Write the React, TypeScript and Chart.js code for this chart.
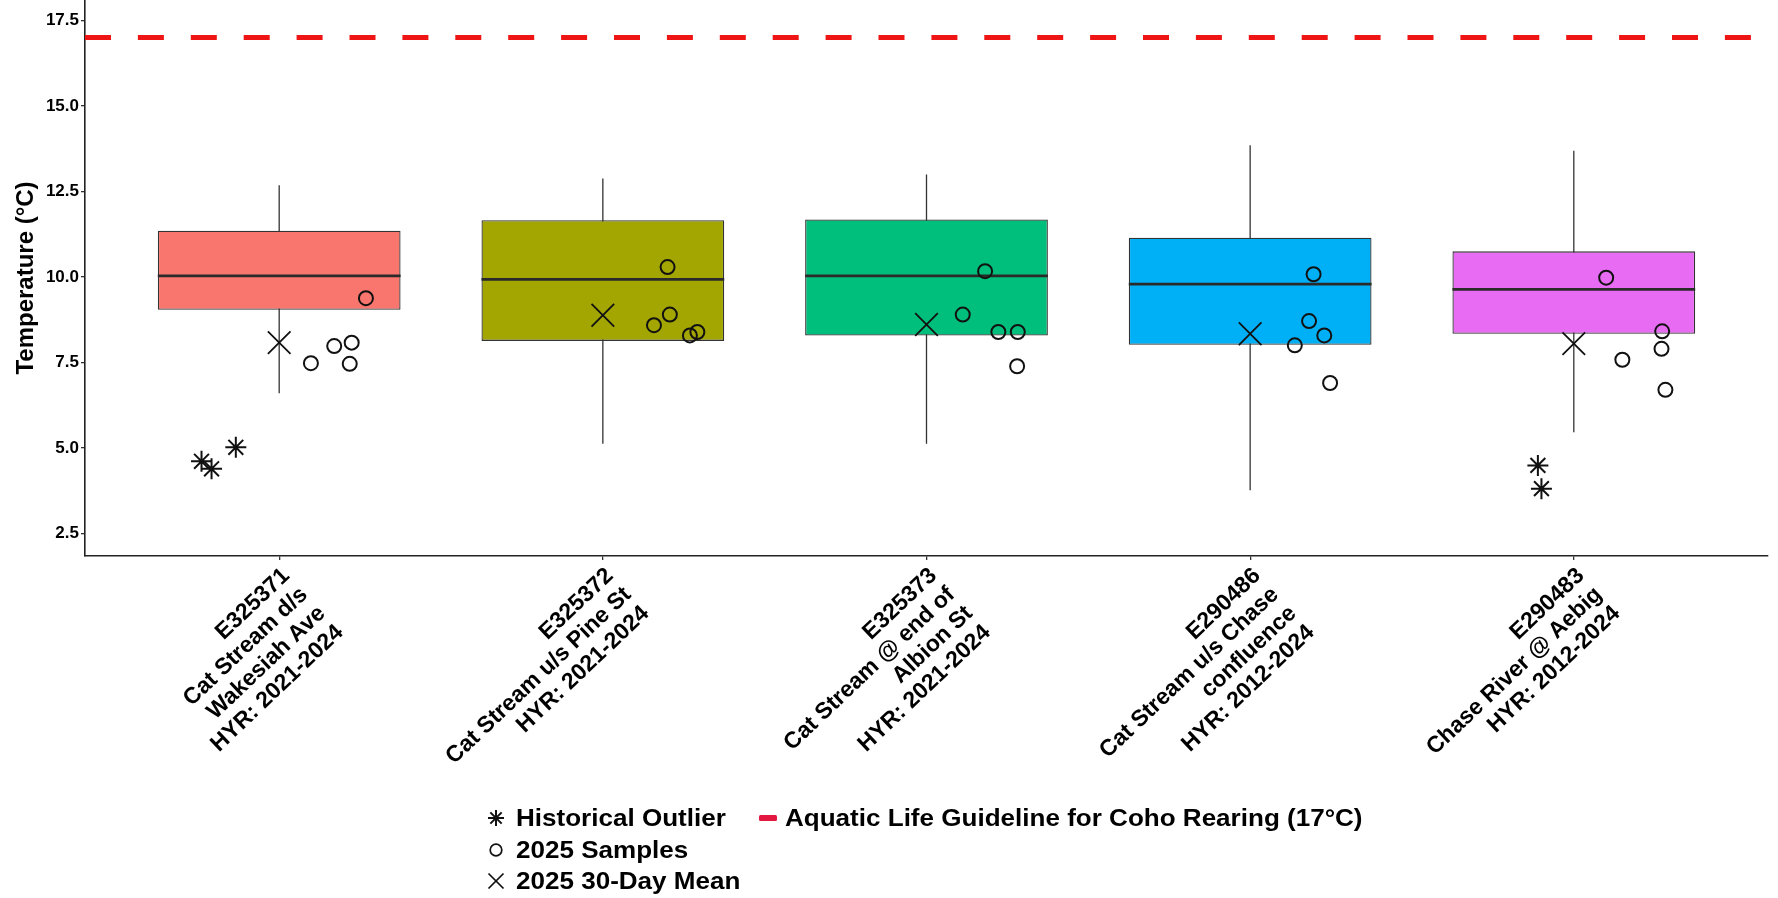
import React, { useEffect, useRef } from 'react';
import { Chart, registerables } from 'chart.js';

Chart.register(...registerables);

// ---------- data ----------
const categories: string[][] = [
  ['E325371', 'Cat Stream d/s', 'Wakesiah Ave', 'HYR: 2021-2024'],
  ['E325372', 'Cat Stream u/s Pine St', 'HYR: 2021-2024'],
  ['E325373', 'Cat Stream @ end of', 'Albion St', 'HYR: 2021-2024'],
  ['E290486', 'Cat Stream u/s Chase', 'confluence', 'HYR: 2012-2024'],
  ['E290483', 'Chase River @ Aebig', 'HYR: 2012-2024'],
];
const boxColors = ['#F8766D', '#A3A500', '#00BF7D', '#00B0F6', '#E76BF3'];

const whiskerLow = [6.6, 5.12, 5.12, 3.76, 5.46];
const q1 = [9.04, 8.13, 8.29, 8.02, 8.34];
const median = [10.03, 9.93, 10.03, 9.79, 9.64];
const q3 = [11.35, 11.66, 11.68, 11.15, 10.75];
const whiskerHigh = [12.68, 12.88, 13.0, 13.85, 13.69];

// 2025 samples (site index, horizontal jitter, temperature)
const sampleSite = [0, 0, 0, 0, 0, 1, 1, 1, 1, 1, 2, 2, 2, 2, 2, 3, 3, 3, 3, 3, 4, 4, 4, 4, 4];
const sampleJitter = [
  0.098, 0.17, 0.224, 0.218, 0.268,
  0.158, 0.207, 0.2, 0.269, 0.292,
  0.112, 0.181, 0.222, 0.282, 0.28,
  0.138, 0.182, 0.196, 0.229, 0.247,
  0.1, 0.15, 0.271, 0.273, 0.283,
];
const sampleTemp = [
  7.48, 7.98, 8.08, 7.46, 9.38,
  8.59, 8.9, 10.29, 8.29, 8.39,
  8.9, 10.17, 8.39, 8.39, 7.39,
  8.0, 8.71, 10.08, 8.29, 6.9,
  9.98, 7.58, 7.9, 8.41, 6.7,
];

// 2025 30-day means
const meanTemp = [8.08, 8.88, 8.61, 8.34, 8.05];

// historical outliers
const outlierSite = [0, 0, 0, 4, 4];
const outlierJitter = [-0.24, -0.209, -0.134, -0.111, -0.1];
const outlierTemp = [4.61, 4.39, 5.02, 4.49, 3.81];

const guideline = 17;
const yTicks = [2.5, 5, 7.5, 10, 12.5, 15, 17.5];
const yMin = 1.84;
const yMax = 18.1;
const xMin = -0.6;
const xMax = 4.6;

const BOX_WIDTH = 0.75;
const FONT = "'Liberation Sans', Arial, sans-serif";

const legendItems = [
  { label: 'Historical Outlier', icon: 'star', col: 0, row: 0 },
  { label: '2025 Samples', icon: 'circle', col: 0, row: 1 },
  { label: '2025 30-Day Mean', icon: 'cross', col: 0, row: 2 },
  { label: 'Aquatic Life Guideline for Coho Rearing (17°C)', icon: 'dash', col: 1, row: 0 },
];

function LegendIcon({ kind }: { kind: string }) {
  const s = 24;
  const c = s / 2;
  if (kind === 'star') {
    const r = 8;
    const d = r * Math.SQRT1_2;
    return (
      <svg width={s} height={s}>
        <g stroke="#111" strokeWidth={2}>
          <line x1={c - r} y1={c} x2={c + r} y2={c} />
          <line x1={c} y1={c - r} x2={c} y2={c + r} />
          <line x1={c - d} y1={c - d} x2={c + d} y2={c + d} />
          <line x1={c - d} y1={c + d} x2={c + d} y2={c - d} />
        </g>
      </svg>
    );
  }
  if (kind === 'circle') {
    return (
      <svg width={s} height={s}>
        <circle cx={c} cy={c} r={5.8} fill="none" stroke="#111" strokeWidth={1.7} />
      </svg>
    );
  }
  if (kind === 'cross') {
    const d = 7.5;
    return (
      <svg width={s} height={s}>
        <g stroke="#111" strokeWidth={1.7}>
          <line x1={c - d} y1={c - d} x2={c + d} y2={c + d} />
          <line x1={c - d} y1={c + d} x2={c + d} y2={c - d} />
        </g>
      </svg>
    );
  }
  return (
    <svg width={s} height={s}>
      <rect x={3} y={c - 3} width={18} height={6} rx={1.5} fill="#E3173F" />
    </svg>
  );
}

export default function App() {
  const canvasRef = useRef<HTMLCanvasElement | null>(null);

  useEffect(() => {
    document.body.style.margin = '0';
    const idx = categories.map((_, i) => i);
    const half = BOX_WIDTH / 2;

    const whiskerData = idx.flatMap((i) => [
      { x: i, y: whiskerLow[i] },
      { x: i, y: whiskerHigh[i] },
      { x: i, y: null },
    ]);
    const medianData = idx.flatMap((i) => [
      { x: i - half, y: median[i] },
      { x: i + half, y: median[i] },
      { x: i, y: null },
    ]);
    const boxData = idx.map((i) => ({ x: i, y: [q1[i], q3[i]] }));
    const sampleData = sampleTemp.map((t, k) => ({ x: sampleSite[k] + sampleJitter[k], y: t }));
    const meanData = meanTemp.map((t, i) => ({ x: i, y: t }));
    const outlierData = outlierTemp.map((t, k) => ({ x: outlierSite[k] + outlierJitter[k], y: t }));
    const guideData = [
      { x: xMin, y: guideline },
      { x: xMax, y: guideline },
    ];

    const chart = new Chart(canvasRef.current as HTMLCanvasElement, {
      type: 'bar',
      data: {
        datasets: [
          {
            type: 'line',
            label: 'whiskers',
            data: whiskerData as any,
            borderColor: '#333333',
            borderWidth: 1.3,
            pointRadius: 0,
            spanGaps: false,
            order: 6,
          } as any,
          {
            type: 'bar',
            label: 'boxes',
            data: boxData as any,
            backgroundColor: boxColors,
            borderColor: '#333333',
            borderWidth: 1.3,
            borderSkipped: false,
            categoryPercentage: 1,
            barPercentage: BOX_WIDTH,
            order: 5,
          } as any,
          {
            type: 'line',
            label: 'medians',
            data: medianData as any,
            borderColor: '#2a2a2a',
            borderWidth: 2.7,
            pointRadius: 0,
            spanGaps: false,
            order: 4,
          } as any,
          {
            type: 'line',
            label: 'Aquatic Life Guideline for Coho Rearing (17°C)',
            data: guideData as any,
            borderColor: '#F01515',
            borderWidth: 5,
            borderDash: [26, 26.9],
            pointRadius: 0,
            order: 3,
          } as any,
          {
            type: 'scatter',
            label: 'Historical Outlier',
            data: outlierData as any,
            pointStyle: 'star',
            pointRadius: 10.5,
            borderColor: '#111111',
            backgroundColor: '#111111',
            borderWidth: 2,
            order: 2,
          } as any,
          {
            type: 'scatter',
            label: '2025 Samples',
            data: sampleData as any,
            pointStyle: 'circle',
            pointRadius: 7,
            borderColor: '#111111',
            backgroundColor: 'rgba(0,0,0,0)',
            borderWidth: 2,
            order: 1,
          } as any,
          {
            type: 'scatter',
            label: '2025 30-Day Mean',
            data: meanData as any,
            pointStyle: 'crossRot',
            pointRadius: 16,
            borderColor: '#111111',
            backgroundColor: '#111111',
            borderWidth: 1.8,
            order: 0,
          } as any,
        ],
      },
      options: {
        responsive: false,
        animation: false,
        events: [],
        devicePixelRatio: 1,
        layout: { autoPadding: false, padding: { top: 0, left: 0, right: 10, bottom: 0 } },
        plugins: {
          legend: { display: false },
          tooltip: { enabled: false },
        },
        scales: {
          x: {
            type: 'linear',
            min: xMin,
            max: xMax,
            offset: false,
            afterBuildTicks: (scale: any) => {
              scale.ticks = categories.map((_, i) => ({ value: i }));
            },
            afterFit: (scale: any) => {
              scale.height = 342;
              scale.paddingLeft = 0;
              scale.paddingRight = 0;
            },
            grid: {
              display: true,
              offset: false,
              drawOnChartArea: false,
              drawTicks: true,
              tickLength: 4,
              color: '#333333',
              lineWidth: 1.3,
            },
            border: { display: true, color: '#222222', width: 1.6 },
            ticks: {
              autoSkip: false,
              minRotation: 43.5,
              maxRotation: 43.5,
              padding: 3,
              labelOffset: 7,
              color: '#000000',
              font: { family: FONT, size: 23, weight: 'bold', lineHeight: 1.13 },
              callback: (value: any) => categories[Math.round(Number(value))] as any,
            },
          },
          y: {
            type: 'linear',
            min: yMin,
            max: yMax,
            beginAtZero: false,
            afterBuildTicks: (scale: any) => {
              scale.ticks = yTicks.map((v) => ({ value: v }));
            },
            afterFit: (scale: any) => {
              scale.width = 85;
              scale.paddingTop = 0;
              scale.paddingBottom = 0;
            },
            grid: {
              display: true,
              offset: false,
              drawOnChartArea: false,
              drawTicks: true,
              tickLength: 4,
              color: '#333333',
              lineWidth: 1.3,
            },
            border: { display: true, color: '#222222', width: 1.6 },
            ticks: {
              padding: 2,
              color: '#000000',
              font: { family: FONT, size: 17, weight: 'bold' },
              callback: (value: any) => Number(value).toFixed(1),
            },
            title: {
              display: true,
              text: 'Temperature (°C)',
              color: '#000000',
              padding: { top: 12, bottom: 0 },
              font: { family: FONT, size: 24, weight: 'bold', lineHeight: 1.2 },
            },
          },
        },
      } as any,
    });
    return () => chart.destroy();
  }, []);

  const colIconX = [495.5, 768];
  const colTextX = [516, 785];
  const rowY = [818, 849.5, 881];

  return (
    <div
      style={{
        position: 'fixed',
        left: 0,
        top: 0,
        width: 1778,
        height: 898,
        background: '#ffffff',
        overflow: 'hidden',
      }}
    >
      <canvas
        ref={canvasRef}
        width={1778}
        height={898}
        style={{ position: 'absolute', left: 0, top: 0, width: 1778, height: 898 }}
      />
      {legendItems.map((it) => (
        <React.Fragment key={it.label}>
          <div
            style={{
              position: 'absolute',
              left: colIconX[it.col] - 12,
              top: rowY[it.row] - 12,
              width: 24,
              height: 24,
            }}
          >
            <LegendIcon kind={it.icon} />
          </div>
          <div
            style={{
              position: 'absolute',
              left: colTextX[it.col],
              top: rowY[it.row] - 15,
              height: 30,
              lineHeight: '30px',
              fontFamily: FONT,
              fontWeight: 'bold',
              fontSize: 24,
              color: '#000',
              whiteSpace: 'nowrap',
              transform: 'scaleX(1.085)',
              transformOrigin: 'left center',
            }}
          >
            {it.label}
          </div>
        </React.Fragment>
      ))}
    </div>
  );
}
